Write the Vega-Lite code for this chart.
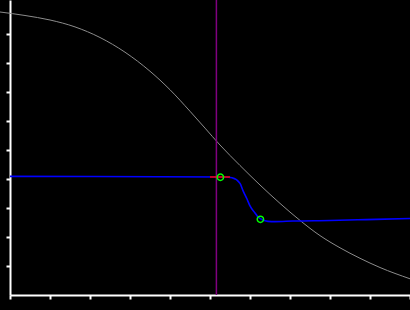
{
  "$schema": "https://vega.github.io/schema/vega-lite/v6.json",
  "autosize": {"type": "none"},
  "width": 400,
  "height": 295,
  "padding": {"left": 10, "top": 0, "right": 0, "bottom": 15},
  "background": "#000000",
  "config": {
    "view": {"stroke": null},
    "axis": {
      "domainColor": "#ffffff", "domainWidth": 2, "tickColor": "#ffffff", "tickWidth": 2, "tickSize": 4,
      "labels": false, "title": null, "grid": false
    }
  },
  "datasets": {
    "gray": [
      {"x": -0.25, "y": 9.759}, {"x": 0.375, "y": 9.638}, {"x": 1.0, "y": 9.483}, {"x": 1.625, "y": 9.245},
      {"x": 2.25, "y": 8.879}, {"x": 2.875, "y": 8.372}, {"x": 3.5, "y": 7.716}, {"x": 4.0, "y": 7.078},
      {"x": 4.5, "y": 6.336}, {"x": 4.875, "y": 5.755}, {"x": 5.25, "y": 5.172}, {"x": 5.75, "y": 4.466},
      {"x": 6.25, "y": 3.793}, {"x": 6.75, "y": 3.159}, {"x": 7.25, "y": 2.572}, {"x": 7.75, "y": 2.048},
      {"x": 8.25, "y": 1.628}, {"x": 8.75, "y": 1.266}, {"x": 9.25, "y": 0.948}, {"x": 10.0, "y": 0.559}
    ],
    "blue": [
      {"x": 0.0, "y": 4.09}, {"x": 5.375, "y": 4.07}, {"x": 5.55, "y": 4.04}, {"x": 5.75, "y": 3.85},
      {"x": 5.825, "y": 3.6}, {"x": 5.925, "y": 3.31}, {"x": 6.0, "y": 3.07}, {"x": 6.125, "y": 2.83},
      {"x": 6.2, "y": 2.69}, {"x": 6.3, "y": 2.6}, {"x": 6.45, "y": 2.54}, {"x": 6.625, "y": 2.53},
      {"x": 7.075, "y": 2.55}, {"x": 8.0, "y": 2.57}, {"x": 8.9, "y": 2.6}, {"x": 10.0, "y": 2.64}
    ],
    "pts": [{"x": 5.26, "y": 4.06}, {"x": 6.26, "y": 2.61}],
    "seg": [{"x": 5.0, "x2": 5.5, "y": 4.07}],
    "vline": [{"x": 5.16}]
  },
  "encoding": {
    "x": {"type": "quantitative", "scale": {"domain": [0, 10]}, "axis": {"values": [0,1,2,3,4,5,6,7,8,9,10]}},
    "y": {"type": "quantitative", "scale": {"domain": [0, 10.1724]}, "axis": {"values": [1,2,3,4,5,6,7,8,9]}}
  },
  "layer": [
    {"data": {"name": "gray"}, "mark": {"type": "line", "color": "#8c8c8c", "strokeWidth": 1, "clip": false, "interpolate": "monotone"}, "encoding": {"x": {"field": "x", "type": "quantitative"}, "y": {"field": "y", "type": "quantitative"}}},
    {"data": {"name": "blue"}, "mark": {"type": "line", "color": "#0000ff", "strokeWidth": 1.6, "interpolate": "monotone"}, "encoding": {"x": {"field": "x", "type": "quantitative"}, "y": {"field": "y", "type": "quantitative"}}},
    {"data": {"name": "vline"}, "mark": {"type": "rule", "color": "#800080", "strokeWidth": 1.5}, "encoding": {"x": {"field": "x", "type": "quantitative"}}},
    {"data": {"name": "seg"}, "mark": {"type": "rule", "color": "#ff0000", "strokeWidth": 1.5}, "encoding": {"x": {"field": "x", "type": "quantitative"}, "x2": {"field": "x2"}, "y": {"field": "y", "type": "quantitative"}}},
    {"data": {"name": "pts"}, "mark": {"type": "point", "shape": "circle", "filled": false, "color": "#00ff00", "strokeWidth": 1.5, "size": 40, "opacity": 1}, "encoding": {"x": {"field": "x", "type": "quantitative"}, "y": {"field": "y", "type": "quantitative"}}}
  ]
}
